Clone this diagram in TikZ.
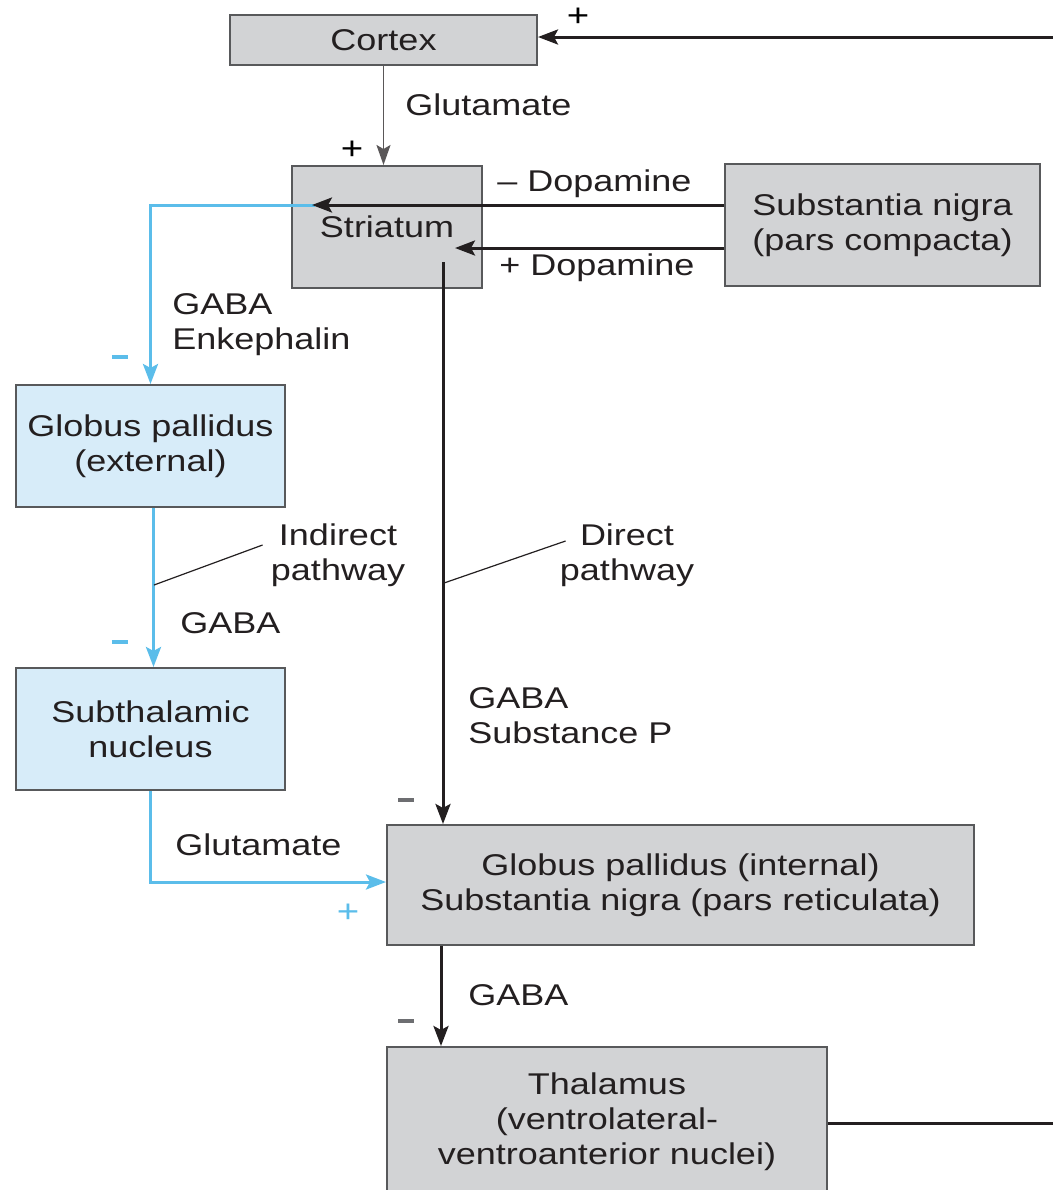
\documentclass[tikz,border=0pt]{standalone}
\usepackage{fontspec}
\setmainfont{Liberation Sans}[FakeStretch=1.2]
\usepackage{tikz}
\usetikzlibrary{arrows.meta,positioning,calc}
\definecolor{BoxGray}{HTML}{D2D3D5}
\definecolor{PaleSky}{HTML}{D7ECF9}
\definecolor{Sky}{HTML}{5BBDEA}
\definecolor{Edge}{HTML}{58595B}
\definecolor{Ink}{HTML}{231F20}
\definecolor{SignGray}{HTML}{6D6E71}
\newcommand{\minussign}{\rule[3pt]{8pt}{2pt}}
\tikzset{
  nucleus/.style={draw=Edge, line width=1pt, fill=BoxGray, align=center, inner sep=0pt, text=Ink},
  bluenucleus/.style={nucleus, fill=PaleSky},
  tag/.style={text=Ink, align=left, inner sep=0pt},
  sign/.style={inner sep=0pt, font=\fontsize{16pt}{18pt}\selectfont},
  arrow/.style={-{Stealth[length=10pt,width=7.5pt,inset=2pt]}, line width=1.5pt, draw=Ink},
  thinarrow/.style={-{Stealth[length=10pt,width=7pt,inset=2pt]}, line width=0.9pt, draw=Ink!75},
  bluearrow/.style={-{Stealth[length=10pt,width=7.5pt,inset=2pt]}, line width=1.5pt, draw=Sky},
  pathline/.style={line width=1.5pt, draw=Ink},
  leader/.style={line width=0.6pt, draw=Ink}
}

\begin{document}
\begin{tikzpicture}[x=0.5pt, y=-0.5pt, font=\fontsize{15pt}{17.5pt}\selectfont]
  \useasboundingbox (0,0) rectangle (1053,1190);

  \node[nucleus, minimum width=153.5pt, minimum height=25pt] (cortex) at (383.5,40) {Cortex};
  \node[nucleus, minimum width=95pt, minimum height=61pt] (striatum) at (387,227) {\raisebox{-1pt}{Striatum}};
  \node[nucleus, minimum width=157.5pt, minimum height=61pt] (snc) at (882.5,225) {Substantia nigra\\(pars compacta)};
  \node[bluenucleus, minimum width=134.5pt, minimum height=61pt] (gpe) at (150.5,446) {Globus pallidus\\(external)};
  \node[bluenucleus, minimum width=134.5pt, minimum height=61pt] (stn) at (150.5,729) {Subthalamic\\nucleus};
  \node[nucleus, minimum width=293.5pt, minimum height=60pt] (gpi) at (680.5,885) {Globus pallidus (internal)\\Substantia nigra (pars reticulata)};
  \node[nucleus, minimum width=220pt, minimum height=75pt] (thal) at (607,1122) {Thalamus\\(ventrolateral-\\ventroanterior nuclei)};

  \coordinate (fbtop) at (1053,37);
  \coordinate (fbbot) at (1053,1123);
  \coordinate (da1) at (312,205);
  \coordinate (da2) at (455,248);
  \coordinate (ind0) at (315,205);
  \coordinate (dir0) at (443,262);
  \coordinate (indpt) at (154,585);
  \coordinate (dirpt) at (444,583);

  \node[tag, anchor=west] (glu1) at (405,105) {Glutamate};
  \node[sign] (plus1) at (352,150) {+};
  \node[sign] (plus2) at (578,17) {+};
  \node[tag, anchor=west] (dam) at (497,184) {– Dopamine};
  \node[tag, anchor=west] (dap) at (499,268) {+ Dopamine};
  \node[tag, anchor=west] (gabaenk) at (172,325) {GABA\\Enkephalin};
  \node[sign, text=Sky] (minus1) at (120,360) {\minussign};
  \node[tag, align=center] (indlbl) at (338,555) {Indirect\\pathway};
  \node[tag, anchor=west] (gaba1) at (180,623) {GABA};
  \node[sign, text=Sky] (minus2) at (120,645) {\minussign};
  \node[tag, align=center] (dirlbl) at (627,555) {Direct\\pathway};
  \node[tag, anchor=west] (gabasp) at (468,716) {GABA\\Substance P};
  \node[sign, text=SignGray] (minus3) at (406,803) {\minussign};
  \node[tag, anchor=west] (glu2) at (175,845) {Glutamate};
  \node[sign, text=Sky] (plus3) at (348,913) {+};
  \node[tag, anchor=west] (gaba2) at (468,995) {GABA};
  \node[sign, text=SignGray] (minus4) at (406,1024) {\minussign};

  \draw[thinarrow] (cortex.south) -- (cortex.south |- striatum.north);
  \draw[arrow] (fbtop) -- (cortex.east |- fbtop);
  \draw[pathline] (thal.east |- fbbot) -- (fbbot);
  \draw[bluearrow] (ind0) -| (gpe.north);
  \draw[arrow] (snc.west |- da1) -- (da1);
  \draw[arrow] (snc.west |- da2) -- (da2);
  \draw[bluearrow] ([xshift=1.5pt]gpe.south) -- ([xshift=1.5pt]stn.north);
  \draw[arrow] (dir0) -- (dir0 |- gpi.north);
  \draw[bluearrow] (stn.south) |- ([yshift=1.5pt]gpi.west);
  \draw[arrow] ([xshift=-1pt]dir0 |- gpi.south) -- ([xshift=-1pt]dir0 |- thal.north);
  \draw[leader] (indpt) -- ([xshift=-4pt,yshift=5pt]indlbl.west);
  \draw[leader] (dirpt) -- ([xshift=3pt,yshift=7pt]dirlbl.west);
\end{tikzpicture}
\end{document}
